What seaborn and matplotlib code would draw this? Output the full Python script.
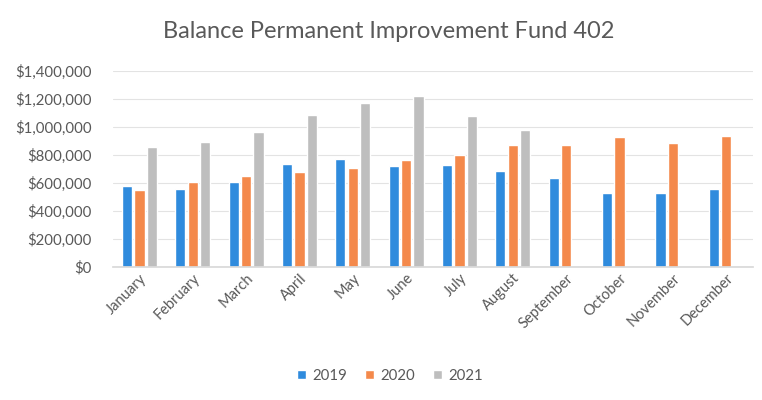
import numpy as np
import pandas as pd
import matplotlib
matplotlib.use("Agg")
import matplotlib.pyplot as plt
import seaborn as sns
from matplotlib.ticker import FuncFormatter, MultipleLocator

months = ["January", "February", "March", "April", "May", "June", "July",
          "August", "September", "October", "November", "December"]
years = ["2019", "2020", "2021"]
v2019 = [579000, 555000, 607000, 735000, 768000, 721000, 726000, 688000, 636000, 527000, 531000, 560000]
v2020 = [550000, 605000, 652000, 678000, 704000, 764000, 802000, 868000, 870000, 925000, 882000, 932000]
v2021 = [859000, 894000, 961000, 1082000, 1172000, 1219000, 1079000, 977000, np.nan, np.nan, np.nan, np.nan]
colors = ["#2F8BDD", "#F4894B", "#BEBEBE"]

rows = []
for y, vals in zip(years, [v2019, v2020, v2021]):
    for m, v in zip(months, vals):
        rows.append({"Month": m, "Year": y, "Value": v})
df = pd.DataFrame(rows)

sns.set_theme(style="white")
plt.rcParams["font.family"] = ["Lato", "DejaVu Sans"]

fig = plt.figure(figsize=(7.62, 4.0), dpi=100)
ax = fig.add_axes([0.148, 0.3325, 0.840, 0.4905])

sns.barplot(data=df, x="Month", y="Value", hue="Year", order=months,
            hue_order=years, palette=colors, width=0.7, gap=0.18,
            saturation=1, ax=ax, legend=True)

ax.set_ylim(0, 1400000)
ax.yaxis.set_major_locator(MultipleLocator(200000))
ax.yaxis.set_major_formatter(FuncFormatter(lambda v, p: f"${v:,.0f}"))
ax.grid(axis="y", color="#E3E3E3", linewidth=0.8)
ax.set_axisbelow(True)
for s in ["top", "right", "left"]:
    ax.spines[s].set_visible(False)
ax.spines["bottom"].set_color("#D9D9D9")
ax.set_xlabel("")
ax.set_ylabel("")
ax.tick_params(axis="y", labelsize=10.8, labelcolor="#595959", length=0, pad=15)
ax.tick_params(axis="x", labelsize=10.5, labelcolor="#595959", length=0, pad=3)
for lbl in ax.get_xticklabels():
    lbl.set_rotation(45)
    lbl.set_ha("right")
    lbl.set_rotation_mode("anchor")

fig.text(0.51, 0.92, "Balance Permanent Improvement Fund 402", ha="center",
         va="center", fontsize=17, color="#595959")

handles, labels = ax.get_legend_handles_labels()
ax.get_legend().remove()
fig.legend(handles, labels, loc="center", bbox_to_anchor=(0.512, 0.06), ncol=3,
           frameon=False, fontsize=10.8, handlelength=0.6, handleheight=0.6,
           handletextpad=0.4, columnspacing=1.2, labelcolor="#595959")

fig.savefig("out.png", dpi=100, facecolor="white")
